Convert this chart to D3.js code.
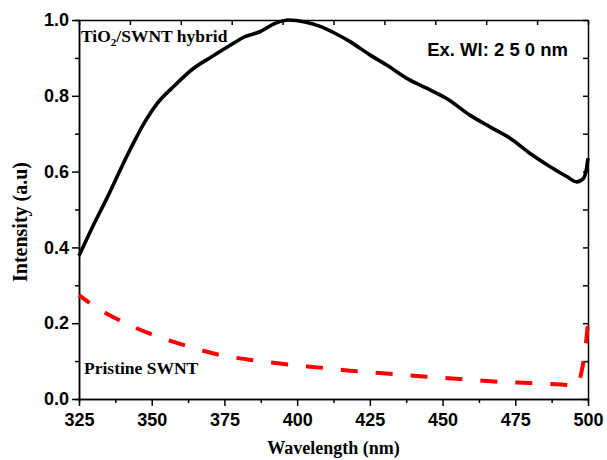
<!DOCTYPE html>
<html>
<head>
<meta charset="utf-8">
<script src="https://cdn.jsdelivr.net/npm/d3@7/dist/d3.min.js"></script>
<style>
  html, body { margin:0; padding:0; background:#fff; }
  svg { display:block; }
  .tick text { font-family:"Liberation Sans", Arial, sans-serif; font-weight:bold; font-size:18px; fill:#000; }
  .title { font-family:"Liberation Serif", "Times New Roman", serif; font-weight:bold; fill:#000; }
</style>
</head>
<body>
<svg id="chart" width="607" height="460"></svg>
<script>
// TiO2/SWNT hybrid emission (black solid)
const hybridWl  = [325, 329.4, 335.1, 339.7, 343.7, 347.7, 351.7, 358, 364.3, 370.6, 376.3, 382.1, 387.2, 392.4, 397, 402.7, 408.4, 413, 418.2, 425, 430.8, 437.7, 444.5, 451.4, 459.4, 466.3, 473.2, 480.1, 487, 492.7, 496.1, 498.4, 499.5, 500]
const hybridInt = [0.378, 0.45, 0.538, 0.613, 0.675, 0.732, 0.778, 0.828, 0.872, 0.903, 0.93, 0.956, 0.969, 0.991, 1.0, 0.995, 0.982, 0.965, 0.943, 0.908, 0.881, 0.846, 0.82, 0.793, 0.749, 0.718, 0.688, 0.648, 0.613, 0.587, 0.573, 0.582, 0.609, 0.635]

// Pristine SWNT emission (red dashed)
const pristineWl  = [325, 328.9, 338.1, 349.8, 362, 373.6, 385.2, 396.8, 409, 420.6, 432.8, 444.4, 456, 467.6, 479.8, 490.9, 496, 498, 499.2, 500]
const pristineInt = [0.274, 0.252, 0.211, 0.171, 0.14, 0.116, 0.102, 0.091, 0.082, 0.073, 0.066, 0.059, 0.053, 0.046, 0.042, 0.038, 0.036, 0.08, 0.14, 0.2]

const xMajor = [325, 350, 375, 400, 425, 450, 475, 500]
const xMinor = [337.5, 362.5, 387.5, 412.5, 437.5, 462.5, 487.5]
const xTop   = [325, 342.5, 360, 377.5, 395, 412.5, 430, 447.5, 465, 482.5, 500]
const yMajor = [0, 0.2, 0.4, 0.6, 0.8, 1.0]
const yMinor = [0.1, 0.3, 0.5, 0.7, 0.9]
const yRight = [0, 0.1, 0.2, 0.3, 0.4, 0.5, 0.6, 0.7, 0.8, 0.9, 1.0]

const W = 607, H = 460
const m = { top:20, right:19, bottom:61, left:79 }

const svg = d3.select('#chart')
const x = d3.scaleLinear().domain([325, 500]).range([m.left, W - m.right])
const y = d3.scaleLinear().domain([0, 1]).range([H - m.bottom, m.top])

function styleAxis(g){
  g.select('.domain').attr('stroke', '#000').attr('stroke-width', 1.5)
  g.selectAll('.tick line').attr('stroke', '#000').attr('stroke-width', 1.5)
}

// minor ticks first, majors over them
svg.append('g').attr('transform', `translate(0,${y(0)})`)
  .call(d3.axisBottom(x).tickValues(xMinor).tickSize(4).tickFormat(''))
  .call(styleAxis)
svg.append('g').attr('transform', `translate(${x(325)},0)`)
  .call(d3.axisLeft(y).tickValues(yMinor).tickSize(4).tickFormat(''))
  .call(styleAxis)

// top and right mirror axes, ticks inward
svg.append('g').attr('transform', `translate(0,${y(1)})`)
  .call(d3.axisTop(x).tickValues(xTop).tickSize(-5).tickSizeOuter(0).tickFormat(''))
  .call(styleAxis)
svg.append('g').attr('transform', `translate(${x(500)},0)`)
  .call(d3.axisRight(y).tickValues(yRight).tickSize(-5).tickSizeOuter(0).tickFormat(''))
  .call(styleAxis)

svg.append('g').attr('transform', `translate(0,${y(0)})`)
  .call(d3.axisBottom(x).tickValues(xMajor).tickSize(7).tickSizeOuter(0).tickPadding(7).tickFormat(d3.format('d')))
  .call(styleAxis)
svg.append('g').attr('transform', `translate(${x(325)},0)`)
  .call(d3.axisLeft(y).tickValues(yMajor).tickSize(7).tickSizeOuter(0).tickPadding(3).tickFormat(d3.format('.1f')))
  .call(styleAxis)

// curves
const line = d3.line().x(d => x(d[0])).y(d => y(d[1])).curve(d3.curveMonotoneX)

svg.append('path')
  .datum(d3.zip(pristineWl, pristineInt))
  .attr('d', line)
  .attr('fill', 'none')
  .attr('stroke', '#ff0000')
  .attr('stroke-width', 4)
  .attr('stroke-dasharray', '17,18')
  .attr('stroke-dashoffset', 4)

svg.append('path')
  .datum(d3.zip(hybridWl, hybridInt))
  .attr('d', line)
  .attr('fill', 'none')
  .attr('stroke', '#000')
  .attr('stroke-width', 3.6)
  .attr('stroke-linejoin', 'round')

// axis titles
svg.append('text').attr('class', 'title')
  .attr('x', (x(325) + x(500)) / 2).attr('y', 454)
  .attr('text-anchor', 'middle').attr('font-size', 18)
  .text('Wavelength (nm)')

svg.append('text').attr('class', 'title')
  .attr('transform', 'translate(27,222) rotate(-90)')
  .attr('text-anchor', 'middle').attr('font-size', 20)
  .text('Intensity (a.u)')

// annotations
const hyb = svg.append('text').attr('class', 'title')
  .attr('x', 81).attr('y', 42).attr('font-size', 17.5)
hyb.append('tspan').text('TiO')
hyb.append('tspan').attr('dy', 4).attr('font-size', 11).text('2')
hyb.append('tspan').attr('dy', -4).text('/SWNT hybrid')

svg.append('text').attr('class', 'title')
  .attr('x', 84).attr('y', 374).attr('font-size', 17.5)
  .text('Pristine SWNT')

svg.append('text')
  .attr('x', 568).attr('y', 56).attr('text-anchor', 'end')
  .attr('font-family', '"Liberation Sans", Arial, sans-serif')
  .attr('font-weight', 'bold').attr('font-size', 18.5)
  .text('Ex. Wl: 2 5 0 nm')
</script>
</body>
</html>
